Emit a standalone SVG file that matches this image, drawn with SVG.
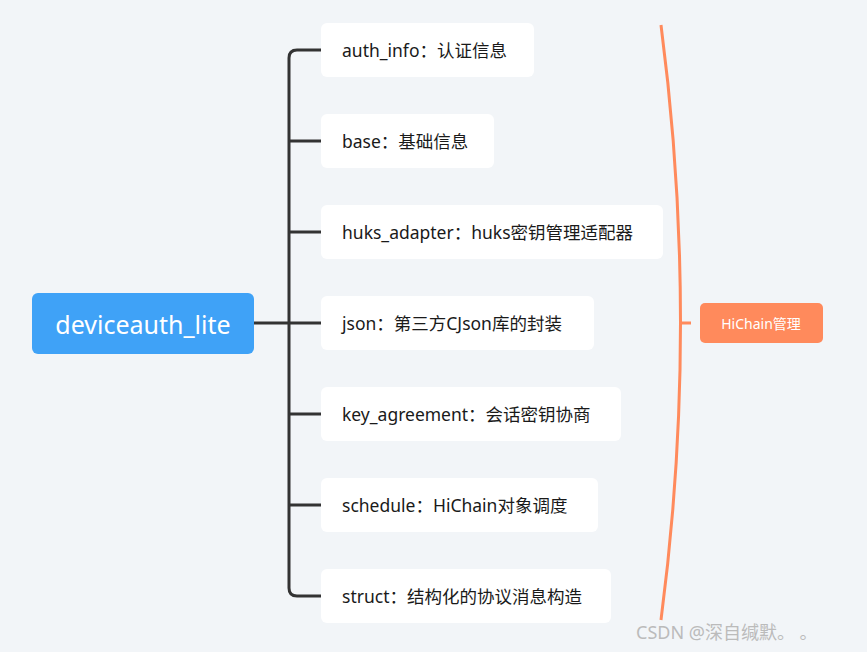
<svg xmlns="http://www.w3.org/2000/svg" width="867" height="652" viewBox="0 0 867 652">
<style>
.n{fill:#fff}
.t{font-family:"Microsoft YaHei","Noto Sans","Noto Sans CJK SC",sans-serif;font-size:17.5px;fill:#1a1a1a;dominant-baseline:central}
.c{fill:none;stroke:#333;stroke-width:3}
</style>
<rect width="867" height="652" fill="#f2f5f8"/>
<g id="connectors">
<path class="c" d="M254 323H289M321 50H297Q289 50 289 58V588Q289 596 297 596H321M289 141H321M289 232H321M289 323H321M289 414H321M289 505H321"/>
<path d="M661 25Q700 323 661 620M681 323H691" fill="none" stroke="#ff8a5c" stroke-width="3"/>
</g>
<g id="root"><rect x="32" y="293" width="222" height="61" rx="6" fill="#3fa2f7"/><text x="143" y="324" text-anchor="middle" class="t" style="fill:#fff;font-size:25px">deviceauth_lite</text></g>
<g id="n1"><rect class="n" x="321" y="23" width="213" height="54" rx="6"/><text class="t" x="342" y="50">auth_info：认证信息</text></g>
<g id="n2"><rect class="n" x="321" y="114" width="173" height="54" rx="6"/><text class="t" x="342" y="141">base：基础信息</text></g>
<g id="n3"><rect class="n" x="321" y="205" width="342" height="54" rx="6"/><text class="t" x="342" y="232">huks_adapter：huks密钥管理适配器</text></g>
<g id="n4"><rect class="n" x="321" y="296" width="273" height="54" rx="6"/><text class="t" x="342" y="323">json：第三方CJson库的封装</text></g>
<g id="n5"><rect class="n" x="321" y="387" width="300" height="54" rx="6"/><text class="t" x="342" y="414">key_agreement：会话密钥协商</text></g>
<g id="n6"><rect class="n" x="321" y="478" width="277" height="54" rx="6"/><text class="t" x="342" y="505">schedule：HiChain对象调度</text></g>
<g id="n7"><rect class="n" x="321" y="569" width="290" height="54" rx="6"/><text class="t" x="342" y="596">struct：结构化的协议消息构造</text></g>
<g id="hichain"><rect x="700" y="303" width="123" height="40" rx="5" fill="#ff8a5c"/><text class="t" x="761" y="323" text-anchor="middle" style="fill:#fff;font-size:14px">HiChain管理</text></g>
<text x="636" y="632" class="t" style="fill:#bbb;font-size:18px">CSDN @深自缄默。 。</text>
</svg>
